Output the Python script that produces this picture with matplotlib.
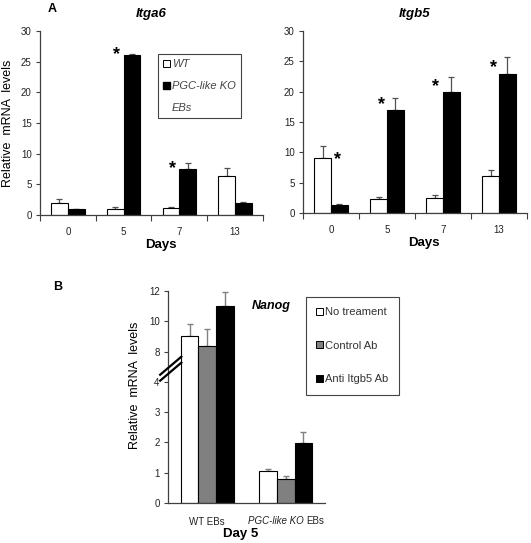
import numpy as np
import matplotlib
matplotlib.use("Agg")
import matplotlib.pyplot as plt
from matplotlib.patches import Patch

plt.rcParams["font.family"] = ["Liberation Sans", "DejaVu Sans"]

# --- data panel A ---
days = ["0", "5", "7", "13"]
itga6_wt = [2.0, 1.0, 1.1, 6.3]
itga6_wt_err = [0.55, 0.3, 0.2, 1.35]
itga6_ko = [1.0, 26.0, 7.5, 2.0]
itga6_ko_err = [0.05, 0.25, 1.0, 0.15]
itga6_sig = [None, 26.2, 7.5, None]

itgb5_wt = [9.0, 2.3, 2.5, 6.1]
itgb5_wt_err = [2.0, 0.35, 0.55, 0.95]
itgb5_ko = [1.3, 17.0, 19.9, 23.0]
itgb5_ko_err = [0.2, 2.0, 2.6, 2.65]
itgb5_sig = [8.8, 17.9, 20.9, 24.0]

# --- data panel B ---
groups = ["WT EBs", "PGC-like KO EBs"]
no_treat = [9.0, 1.05]
no_treat_err = [0.82, 0.08]
control_ab = [8.4, 0.78]
control_ab_err = [1.1, 0.12]
anti_itgb5 = [11.0, 1.97]
anti_itgb5_err = [0.95, 0.38]
nanog_ticks = [0, 1, 2, 3, 4, 8, 10, 12]

AXCOL = "#404040"
ERRCOL = "#505050"

fig = plt.figure(figsize=(5.31, 5.43), dpi=100)


def style_axes(ax):
    for s in ["top", "right"]:
        ax.spines[s].set_visible(False)
    for s in ["left", "bottom"]:
        ax.spines[s].set_color(AXCOL)
        ax.spines[s].set_linewidth(0.9)
    ax.tick_params(axis="y", direction="out", length=3, width=0.8, color=AXCOL,
                   labelsize=7, pad=3, labelcolor="#222222")


def panel_a(ax, wt, wt_err, ko, ko_err, sig, title, sig_dx):
    x = np.arange(len(days))
    w = 0.3
    ax.bar(x - w / 2, wt, w, color="white", edgecolor="black", linewidth=0.8, zorder=2)
    ax.bar(x + w / 2, ko, w, color="black", edgecolor="black", linewidth=0.8, zorder=2)
    ax.errorbar(x - w / 2, wt, yerr=[np.zeros(len(wt)), wt_err], fmt="none",
                ecolor=ERRCOL, elinewidth=0.9, capsize=2, capthick=0.9, zorder=1)
    ax.errorbar(x + w / 2, ko, yerr=[np.zeros(len(ko)), ko_err], fmt="none",
                ecolor=ERRCOL, elinewidth=0.9, capsize=2, capthick=0.9, zorder=1)
    for i, s in enumerate(sig):
        if s is not None:
            ax.text(i + sig_dx[i], s, "*", ha="center", va="center", fontsize=13,
                    fontweight="bold")
    ax.set_xlim(-0.5, len(days) - 0.5)
    ax.set_ylim(0, 30)
    ax.set_yticks(range(0, 31, 5))
    ax.set_xticks(np.arange(-0.5, len(days), 1.0))
    ax.set_xticklabels([])
    ax.set_xticks(x, minor=True)
    ax.set_xticklabels(days, minor=True)
    ax.tick_params(axis="x", which="major", direction="out", length=4, width=0.8, color=AXCOL)
    ax.tick_params(axis="x", which="minor", length=0, labelsize=7, pad=8.5, labelcolor="#222222")
    style_axes(ax)
    ax.set_xlabel("Days", fontsize=9.5, fontweight="bold")
    ax.xaxis.set_label_coords(0.54, -0.13)
    ax.set_title(title, fontsize=9.5, fontweight="bold", style="italic", pad=10)


ax1 = fig.add_axes([0.0753, 0.604, 0.42, 0.339])
panel_a(ax1, itga6_wt, itga6_wt_err, itga6_ko, itga6_ko_err, itga6_sig, "Itga6",
        [0, -0.12, -0.115, 0])
ax1.set_ylabel("Relative  mRNA  levels", fontsize=9)
ax1.yaxis.set_label_coords(-0.115, 0.5)
leg = ax1.legend(handles=[Patch(facecolor="white", edgecolor="black", linewidth=0.7),
                          Patch(facecolor="black", edgecolor="black"),
                          Patch(facecolor="none", edgecolor="none")],
                 labels=["WT", "PGC-like KO", "EBs"], loc="upper left",
                 bbox_to_anchor=(0.529, 0.875), prop={"style": "italic", "size": 8},
                 handlelength=0.6, handleheight=0.6, handletextpad=0.2,
                 labelspacing=1.1, borderpad=0.45, fancybox=False, framealpha=1,
                 edgecolor="#444444", borderaxespad=0)
leg.get_frame().set_linewidth(0.8)
for t in leg.get_texts():
    t.set_color("#444444")

ax2 = fig.add_axes([0.5706, 0.6077, 0.4218, 0.335])
panel_a(ax2, itgb5_wt, itgb5_wt_err, itgb5_ko, itgb5_ko_err, itgb5_sig, "Itgb5",
        [0.11, -0.09, -0.125, -0.09])

fig.text(0.09, 0.995, "A", fontsize=9, fontweight="bold", va="top")


# --- panel B: broken axis via function scale ---
def fwd(v):
    v = np.asarray(v, dtype=float)
    return np.where(v <= 4, v, np.where(v >= 8, 5 + (v - 8) / 2, 4 + (v - 4) / 4))


def inv(p):
    p = np.asarray(p, dtype=float)
    return np.where(p <= 4, p, np.where(p >= 5, 8 + (p - 5) * 2, 4 + (p - 4) * 4))


ax3 = fig.add_axes([0.3164, 0.0737, 0.2957, 0.3904])
ax3.set_yscale("function", functions=(fwd, inv))
xb = np.arange(len(groups))
wb = 0.224
series = [(no_treat, no_treat_err, "white", "No treament"),
          (control_ab, control_ab_err, "#808080", "Control Ab"),
          (anti_itgb5, anti_itgb5_err, "black", "Anti Itgb5 Ab")]
handles = []
for k, (vals, errs, col, lab) in enumerate(series):
    pos = xb + (k - 1) * wb
    ax3.bar(pos, vals, wb, color=col, edgecolor="black", linewidth=0.8, zorder=2)
    ax3.errorbar(pos, vals, yerr=[np.zeros(len(vals)), errs], fmt="none",
                 ecolor="#808080", elinewidth=1.0, capsize=2, capthick=1.0, zorder=1)
    handles.append(Patch(facecolor=col, edgecolor="black", linewidth=0.7, label=lab))

ax3.set_xlim(-0.5, len(groups) - 0.5)
ax3.set_ylim(0, 12)
ax3.set_yticks(nanog_ticks)
ax3.set_yticklabels([str(t) for t in nanog_ticks])
ax3.yaxis.set_minor_locator(matplotlib.ticker.NullLocator())
ax3.set_xticks(xb)
ax3.set_xticklabels(["WT EBs", ""])
ax3.tick_params(axis="x", length=0, labelsize=7, pad=10, labelcolor="#222222")
style_axes(ax3)
# second group label: italic genotype + plain "EBs"
ax3.text(1.235, -0.083, "PGC-like KO", transform=ax3.get_xaxis_transform(), ha="right",
         va="center", fontsize=7, style="italic", color="#222222")
ax3.text(1.265, -0.083, "EBs", transform=ax3.get_xaxis_transform(), ha="left",
         va="center", fontsize=7, color="#222222")
ax3.set_xlabel("Day 5", fontsize=9.5, fontweight="bold")
ax3.xaxis.set_label_coords(0.46, -0.12)
ax3.set_ylabel("Relative  mRNA  levels", fontsize=9)
ax3.yaxis.set_label_coords(-0.17, 0.555)
ax3.text(0.655, 0.93, "Nanog", transform=ax3.transAxes, fontsize=9, fontweight="bold",
         style="italic", ha="center", va="center")

# break marks on the y axis
for dy in [0.0, -0.028]:
    ax3.plot([-0.05, 0.085], [0.605 + dy, 0.69 + dy], transform=ax3.transAxes,
             color="black", linewidth=1.6, clip_on=False, zorder=5)

legb = ax3.legend(handles=handles, loc="upper left", bbox_to_anchor=(0.878, 0.972),
                  prop={"size": 8}, handlelength=0.6, handleheight=0.6,
                  handletextpad=0.2, labelspacing=2.1, borderpad=0.95,
                  fancybox=False, framealpha=1, edgecolor="#444444", borderaxespad=0)
legb.get_frame().set_linewidth(0.8)
for t in legb.get_texts():
    t.set_color("#333333")

fig.text(0.1, 0.482, "B", fontsize=9, fontweight="bold", va="top")

fig.savefig("out.png", dpi=100)
